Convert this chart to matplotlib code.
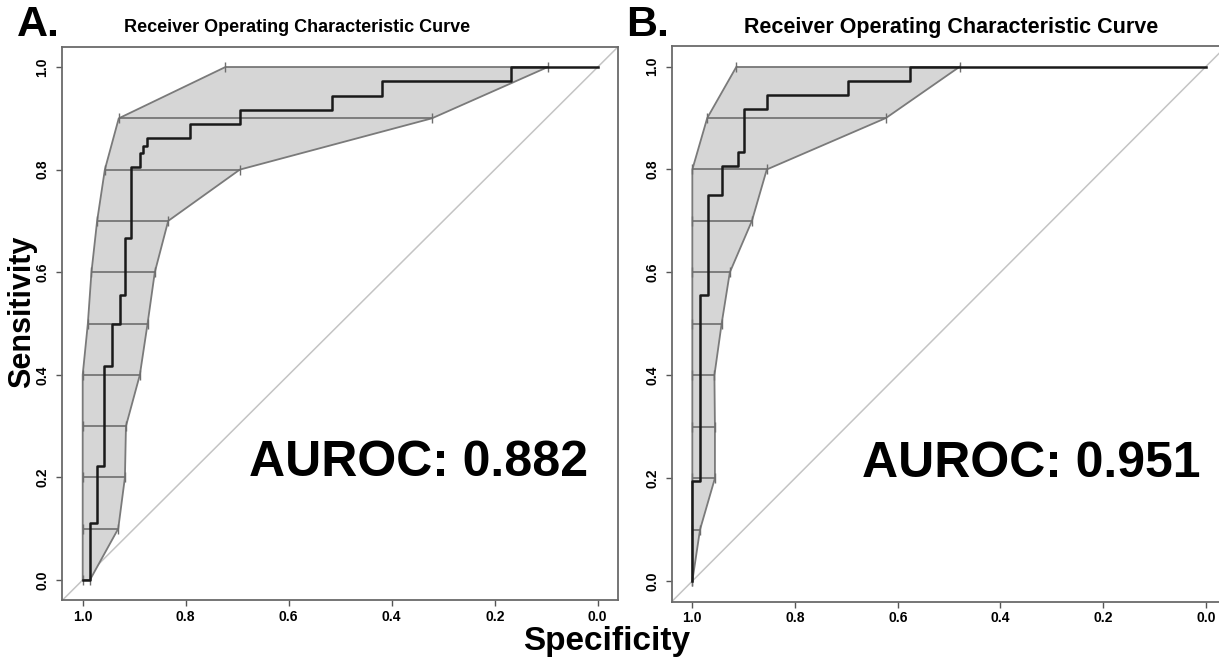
import numpy as np
import matplotlib
matplotlib.use("Agg")
import matplotlib.pyplot as plt

plt.rcParams['font.family'] = ['Liberation Sans', 'DejaVu Sans']
plt.rcParams['font.weight'] = 'bold'

# sensitivity levels where the specificity CI was computed
sens_levels = [0.0, 0.1, 0.2, 0.3, 0.4, 0.5, 0.6, 0.7, 0.8, 0.9, 1.0]

# panel A: specificity CI (upper / lower) at each sensitivity level
a_spec_hi = [1.0, 1.0, 1.0, 1.0, 1.0, 0.99, 0.983, 0.972, 0.957, 0.93, 0.723]
a_spec_lo = [0.986, 0.931, 0.918, 0.916, 0.889, 0.874, 0.86, 0.834, 0.695, 0.322, 0.097]

# panel A: ROC curve vertices
a_curve_spec = [1.0, 0.986, 0.986, 0.973, 0.973, 0.959, 0.959, 0.944, 0.944, 0.928, 0.928,
                0.917, 0.917, 0.906, 0.906, 0.889, 0.889, 0.883, 0.883, 0.875, 0.875,
                0.792, 0.792, 0.695, 0.695, 0.516, 0.516, 0.418, 0.418, 0.169, 0.169, 0.0]
a_curve_sens = [0.0, 0.0, 0.111, 0.111, 0.222, 0.222, 0.417, 0.417, 0.5, 0.5, 0.556,
                0.556, 0.667, 0.667, 0.806, 0.806, 0.833, 0.833, 0.847, 0.847, 0.861,
                0.861, 0.889, 0.889, 0.917, 0.917, 0.944, 0.944, 0.972, 0.972, 1.0, 1.0]

# panel B
b_spec_hi = [1.0, 1.0, 1.0, 1.0, 1.0, 1.0, 1.0, 1.0, 1.0, 0.971, 0.914]
b_spec_lo = [1.0, 0.985, 0.956, 0.956, 0.957, 0.943, 0.927, 0.884, 0.855, 0.623, 0.479]

b_curve_spec = [1.0, 1.0, 0.985, 0.985, 0.969, 0.969, 0.942, 0.942, 0.912, 0.912,
                0.899, 0.899, 0.854, 0.854, 0.696, 0.696, 0.577, 0.577, 0.0]
b_curve_sens = [0.0, 0.194, 0.194, 0.556, 0.556, 0.75, 0.75, 0.806, 0.806, 0.833,
                0.833, 0.917, 0.917, 0.944, 0.944, 0.972, 0.972, 1.0, 1.0]

auc_a = 0.882
auc_b = 0.951

ticks = [1.0, 0.8, 0.6, 0.4, 0.2, 0.0]

W, H = 1219, 658
fig = plt.figure(figsize=(W / 100, H / 100), dpi=100)

ax_a = fig.add_axes([0.05094, 0.08739, 0.4563, 0.8419])
ax_b = fig.add_axes([0.5511, 0.0857, 0.4550, 0.8444])


def draw_panel(ax, spec_hi, spec_lo, c_spec, c_sens, auc, auc_x):
    ax.set_xlim(1.04, -0.04)
    ax.set_ylim(-0.04, 1.04)
    # chance line
    ax.axline((1, 0), (0, 1), color='#c4c4c4', lw=1.1, zorder=1)
    # CI band
    poly_x = list(spec_hi) + list(spec_lo)[::-1]
    poly_y = list(sens_levels) + list(sens_levels)[::-1]
    ax.fill(poly_x, poly_y, facecolor='#d6d6d6', edgecolor='none', zorder=2)
    ax.plot(spec_hi, sens_levels, color='#7a7a7a', lw=1.3, zorder=3)
    ax.plot(spec_lo, sens_levels, color='#7a7a7a', lw=1.3, zorder=3)
    # CI bars
    mid = (np.array(spec_hi) + np.array(spec_lo)) / 2
    half = (np.array(spec_hi) - np.array(spec_lo)) / 2
    ax.errorbar(mid, sens_levels, xerr=half, fmt='none', ecolor='#6e6e6e',
                elinewidth=1.2, capsize=3.5, capthick=1.0, zorder=4)
    # ROC curve
    ax.plot(c_spec, c_sens, color='#1a1a1a', lw=1.8, zorder=5)
    ax.text(auc_x, 0.228, 'AUROC: %.3f' % auc, fontsize=36, fontweight='bold',
            ha='right', va='center', zorder=6)

    ax.set_xticks(ticks)
    ax.set_xticklabels(['%.1f' % t for t in ticks], fontsize=10, fontweight='bold')
    ax.set_yticks(ticks)
    ax.set_yticklabels(['%.1f' % t for t in ticks], fontsize=10, fontweight='bold',
                       rotation=90, va='center')
    ax.tick_params(direction='out', length=4, width=1.0, color='#555555', pad=5)
    ax.tick_params(axis='x', pad=3)
    for s in ax.spines.values():
        s.set_color('#6a6a6a')
        s.set_linewidth(1.3)


draw_panel(ax_a, a_spec_hi, a_spec_lo, a_curve_spec, a_curve_sens, auc_a, 0.019)
draw_panel(ax_b, b_spec_hi, b_spec_lo, b_curve_spec, b_curve_sens, auc_b, 0.010)

# titles and panel letters
fig.text(297 / W, 1 - 27 / H, 'Receiver Operating Characteristic Curve', fontsize=13,
         fontweight='bold', ha='center', va='center')
fig.text(951 / W, 1 - 27 / H, 'Receiver Operating Characteristic Curve', fontsize=15.5,
         fontweight='bold', ha='center', va='center')
fig.text(17 / W, 1 - 25 / H, 'A.', fontsize=31, fontweight='bold', ha='left', va='center')
fig.text(626 / W, 1 - 25 / H, 'B.', fontsize=31, fontweight='bold', ha='left', va='center')

# axis labels
fig.text(607 / W, 1 - 650 / H, 'Specificity', fontsize=24, fontweight='bold',
         ha='center', va='baseline')
fig.text(22 / W, 1 - 312 / H, 'Sensitivity', fontsize=22, fontweight='bold',
         ha='center', va='center', rotation=90)

fig.savefig('out.png', dpi=100)
